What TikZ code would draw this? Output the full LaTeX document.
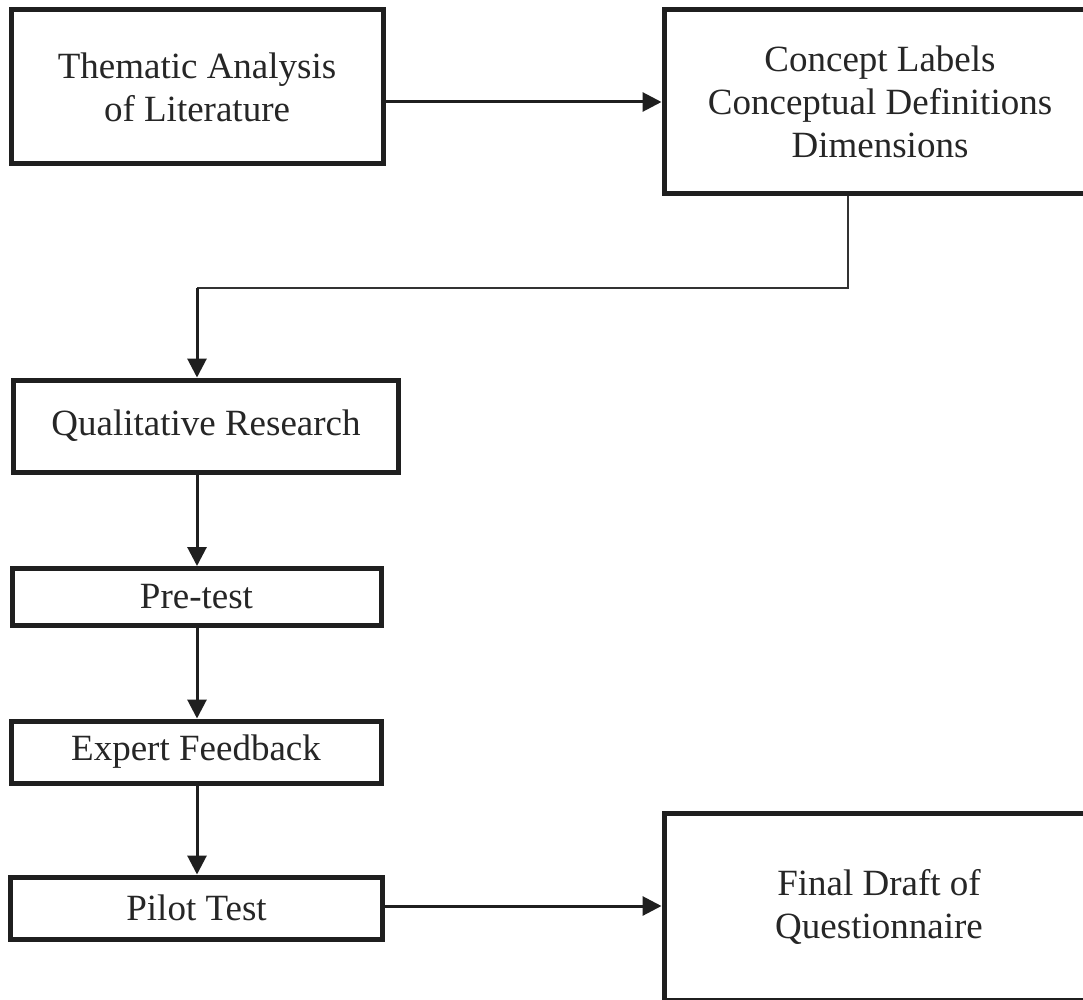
\documentclass[tikz,border=0pt]{standalone}
\usepackage{fontspec}
\setmainfont{Liberation Serif}
\usetikzlibrary{arrows.meta,calc}
\begin{document}
\begin{tikzpicture}[x=1pt,y=-1pt,
  box/.style={draw=black!88, line width=5pt, rectangle, align=center, inner sep=0pt,
    font=\fontsize{37}{43}\selectfont, text=black!85},
  arr/.style={draw=black!88, line width=3pt, -{Triangle[length=19pt,width=19pt]}},
  link/.style={draw=black!80, line width=1.8pt}]
\useasboundingbox (0,0) rectangle (1083,1000);
\clip (0,0) rectangle (1083,1000);
\fill[white] (0,0) rectangle (1083,1000);

\node[box, minimum width=372pt, minimum height=154pt] (b1) at (197,87) {Thematic Analysis\\of Literature};
\node[box, minimum width=432pt, minimum height=184pt] (b2) at (880,102) {Concept Labels\\Conceptual Definitions\\Dimensions};
\node[box, minimum width=385pt, minimum height=92pt] (b3) at (206,426) {Qualitative Research};
\node[box, minimum width=369pt, minimum height=57pt] (b4) at (196.5,597) {Pre-test};
\node[box, minimum width=370pt, minimum height=62pt] (b5) at (196,752) {Expert Feedback};
\node[box, minimum width=372pt, minimum height=62pt] (b6) at (196.5,908) {Pilot Test};
\node[box, minimum width=430pt, minimum height=187pt] (b7) at (879,907) {Final Draft of\\Questionnaire};

\coordinate (bendR) at (848,288);
\coordinate (bendL) at (197,288);

\draw[arr] (b1.east |- b2.west) -- (b2.west);
\draw[link] (b2.south -| bendR) -- (bendR) -- (bendL);
\draw[arr] (bendL) -- (bendL |- b3.north);
\draw[arr] (b3.south -| bendL) -- (bendL |- b4.north);
\draw[arr] (b4.south -| bendL) -- (bendL |- b5.north);
\draw[arr] (b5.south -| bendL) -- (bendL |- b6.north);
\draw[arr] (b6.east) ++(0,-2) coordinate (p6) -- (p6 -| b7.west);
\end{tikzpicture}
\end{document}
